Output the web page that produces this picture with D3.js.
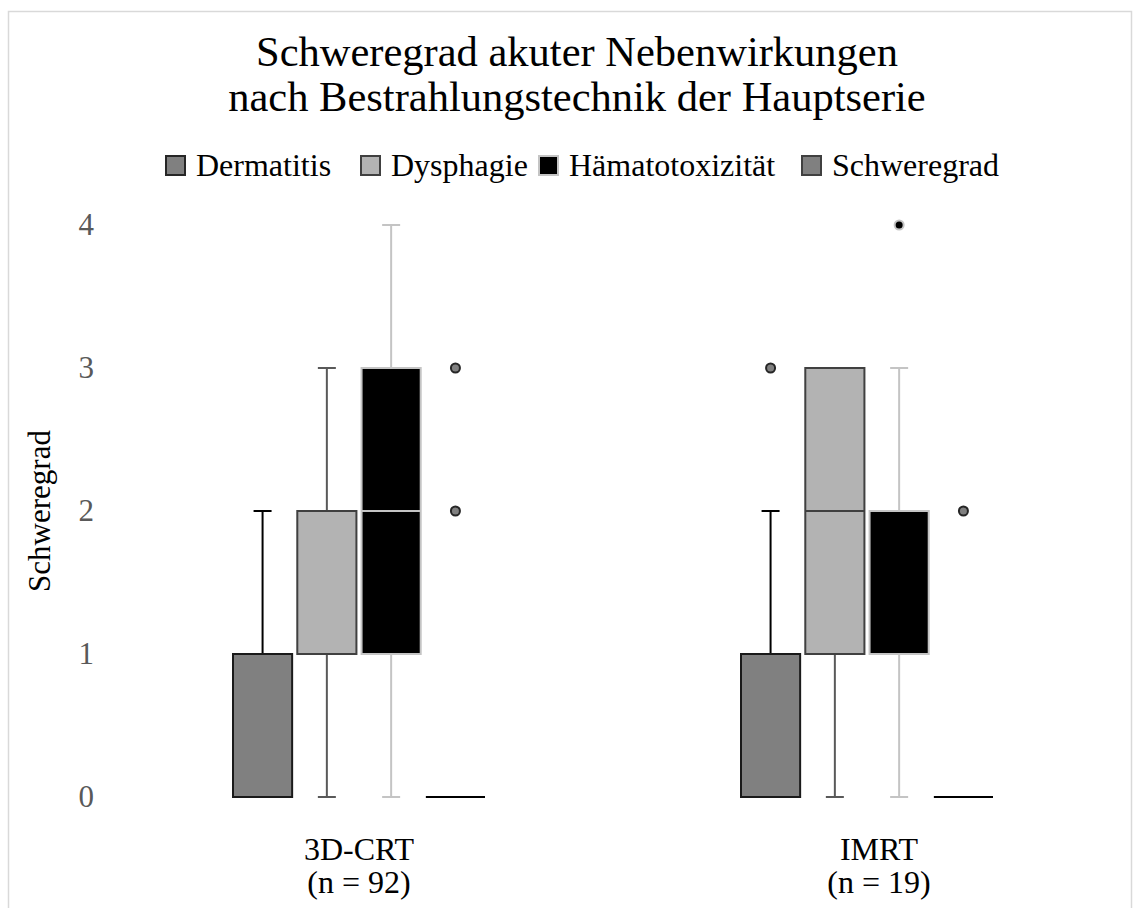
<!DOCTYPE html>
<html>
<head>
<meta charset="utf-8">
<script src="https://cdn.jsdelivr.net/npm/d3@7"></script>
<style>
  body { margin: 0; background: #fff; }
  svg, svg text { font-family: "Liberation Serif", "Times New Roman", serif; }
  svg { display: block; }
</style>
</head>
<body>
<div id="vis"></div>
<script>
// Data
const CATEGORIES = ["3D-CRT", "IMRT"];
const CATEGORY_N = ["(n = 92)", "(n = 19)"];
const SERIES = ["Dermatitis", "Dysphagie", "Hämatotoxizität", "Schweregrad"];
const Y_TICKS = [0, 1, 2, 3, 4];

// box stats per category: [min, q1, median, q3, max]
const DERMATITIS = [[0, 0, 1, 1, 2], [0, 0, 1, 1, 2]];
const DYSPHAGIE = [[0, 1, 2, 2, 3], [0, 1, 2, 3, 3]];
const HAEMATO = [[0, 1, 2, 3, 4], [0, 1, 2, 2, 3]];
const SCHWEREGRAD = [[0, 0, 0, 0, 0], [0, 0, 0, 0, 0]];

// outliers: [series index, category index, value]
const OUTLIERS = [[3, 0, 3], [3, 0, 2], [0, 1, 3], [2, 1, 4], [3, 1, 2]];

// Styles per series
const FILL = ["#808080", "#b3b3b3", "#000000", "#808080"];
const STROKE = ["#1a1a1a", "#404040", "#c4c4c4", "#000000"];
const WHISKER = ["#000000", "#595959", "#c4c4c4", "#000000"];
const MEDIAN = ["#1a1a1a", "#404040", "#c4c4c4", "#000000"];
const LEGEND_STROKE = ["#262626", "#404040", "#c4c4c4", "#404040"];

const WIDTH = 1133, HEIGHT = 908;
const LABEL_SHIFT = [0, 12];

const svg = d3.select("#vis").append("svg")
    .attr("width", WIDTH)
    .attr("height", HEIGHT);

// chart border
svg.append("rect")
    .attr("x", 8.5).attr("y", 11.5)
    .attr("width", 1123).attr("height", 920)
    .attr("fill", "none")
    .attr("stroke", "#d9d9d9")
    .attr("stroke-width", 1.5);

// Title
const title = svg.append("text")
    .attr("text-anchor", "middle")
    .attr("font-size", 42.5)
    .attr("fill", "#000");
title.append("tspan").attr("x", 577).attr("y", 66).text("Schweregrad akuter Nebenwirkungen");
title.append("tspan").attr("x", 577).attr("y", 111).text("nach Bestrahlungstechnik der Hauptserie");

// Legend
const LEGEND_X = [166, 361, 539, 802];
const legend = svg.append("g");
SERIES.forEach((s, i) => {
  legend.append("rect")
      .attr("x", LEGEND_X[i]).attr("y", 156)
      .attr("width", 19).attr("height", 19)
      .attr("fill", FILL[i])
      .attr("stroke", LEGEND_STROKE[i])
      .attr("stroke-width", 2);
  legend.append("text")
      .attr("x", LEGEND_X[i] + 30).attr("y", 176)
      .attr("font-size", 32)
      .text(s);
});

// Scales
const X_SCALE = d3.scaleBand()
    .domain(CATEGORIES)
    .range([105, 1121]);

const INNER = d3.scaleBand()
    .domain(SERIES)
    .range([-126, 126])
    .paddingInner(0.08);

const Y_SCALE = d3.scaleLinear()
    .domain([0, 4])
    .range([797, 225]);

// Y axis (labels only)
const yAxis = svg.append("g")
    .attr("transform", "translate(94,0)")
    .call(d3.axisLeft(Y_SCALE).tickValues(Y_TICKS).tickSize(0).tickPadding(0).tickFormat(d3.format("d")));
yAxis.select(".domain").remove();
yAxis.attr("font-family", null);
yAxis.selectAll("text")
    .attr("font-size", 31)
    .attr("fill", "#595959");

svg.append("text")
    .attr("transform", "translate(50,511) rotate(-90)")
    .attr("text-anchor", "middle")
    .attr("font-size", 31)
    .text("Schweregrad");

// Category labels
CATEGORIES.forEach((c, i) => {
  const cx = X_SCALE(c) + X_SCALE.bandwidth() / 2 + LABEL_SHIFT[i];
  svg.append("text")
      .attr("x", cx).attr("y", 860)
      .attr("text-anchor", "middle")
      .attr("font-size", 32)
      .text(c);
  svg.append("text")
      .attr("x", cx).attr("y", 893)
      .attr("text-anchor", "middle")
      .attr("font-size", 32)
      .text(CATEGORY_N[i]);
});

// Boxes
const STATS = [DERMATITIS, DYSPHAGIE, HAEMATO, SCHWEREGRAD];
const boxes = [];
STATS.forEach((arr, si) => {
  arr.forEach((st, ci) => {
    boxes.push({ s: si, c: ci, min: st[0], q1: st[1], med: st[2], q3: st[3], max: st[4] });
  });
});

const bw = INNER.bandwidth();
const boxX = (d) => X_SCALE(CATEGORIES[d.c]) + X_SCALE.bandwidth() / 2 + INNER(SERIES[d.s]);
const boxCx = (d) => boxX(d) + bw / 2;
const CAP = 18;

const g = svg.append("g");

// whiskers
boxes.forEach((d) => {
  if (d.max > d.q3) {
    g.append("line")
        .attr("x1", boxCx(d)).attr("x2", boxCx(d))
        .attr("y1", Y_SCALE(d.q3)).attr("y2", Y_SCALE(d.max))
        .attr("stroke", WHISKER[d.s]).attr("stroke-width", 2);
    g.append("line")
        .attr("x1", boxCx(d) - CAP / 2).attr("x2", boxCx(d) + CAP / 2)
        .attr("y1", Y_SCALE(d.max)).attr("y2", Y_SCALE(d.max))
        .attr("stroke", WHISKER[d.s]).attr("stroke-width", 2);
  }
  if (d.min < d.q1) {
    g.append("line")
        .attr("x1", boxCx(d)).attr("x2", boxCx(d))
        .attr("y1", Y_SCALE(d.q1)).attr("y2", Y_SCALE(d.min))
        .attr("stroke", WHISKER[d.s]).attr("stroke-width", 2);
    g.append("line")
        .attr("x1", boxCx(d) - CAP / 2).attr("x2", boxCx(d) + CAP / 2)
        .attr("y1", Y_SCALE(d.min)).attr("y2", Y_SCALE(d.min))
        .attr("stroke", WHISKER[d.s]).attr("stroke-width", 2);
  }
});

// boxes
g.selectAll("rect.box")
    .data(boxes)
    .enter()
    .append("rect")
      .attr("class", "box")
      .attr("x", boxX)
      .attr("y", (d) => Y_SCALE(d.q3))
      .attr("width", bw)
      .attr("height", (d) => Y_SCALE(d.q1) - Y_SCALE(d.q3))
      .attr("fill", (d) => FILL[d.s])
      .attr("stroke", (d) => STROKE[d.s])
      .attr("stroke-width", (d) => d.q1 === d.q3 ? 3 : 2);

// medians
g.selectAll("line.median")
    .data(boxes)
    .enter()
    .append("line")
      .attr("class", "median")
      .attr("x1", boxX)
      .attr("x2", (d) => boxX(d) + bw)
      .attr("y1", (d) => Y_SCALE(d.med))
      .attr("y2", (d) => Y_SCALE(d.med))
      .attr("stroke", (d) => MEDIAN[d.s])
      .attr("stroke-width", 2);

// outliers
g.selectAll("circle.outlier")
    .data(OUTLIERS)
    .enter()
    .append("circle")
      .attr("class", "outlier")
      .attr("cx", (d) => boxCx({ s: d[0], c: d[1] }))
      .attr("cy", (d) => Y_SCALE(d[2]))
      .attr("r", 4.5)
      .attr("fill", (d) => FILL[d[0]])
      .attr("stroke", (d) => d[0] === 2 ? "#c4c4c4" : "#262626")
      .attr("stroke-width", 2);
</script>
</body>
</html>
